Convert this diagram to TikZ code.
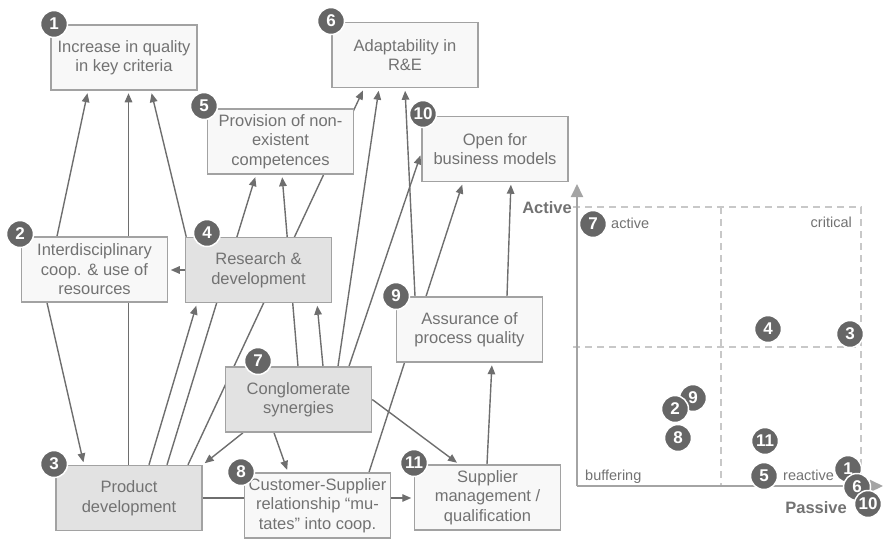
\documentclass[tikz,border=0pt]{standalone}
\usepackage{fontspec}
\setmainfont{Liberation Sans}
\usetikzlibrary{arrows.meta,calc}
\pgfdeclarelayer{background}
\pgfsetlayers{background,main}

\definecolor{boxline}{HTML}{A2A2A2}
\definecolor{boxfill}{HTML}{F8F8F8}
\definecolor{boxdark}{HTML}{E2E2E2}
\definecolor{txt}{HTML}{727272}
\definecolor{linkcol}{HTML}{6E6E6E}
\definecolor{badgecol}{HTML}{666666}
\definecolor{axiscol}{HTML}{A4A4A4}
\definecolor{gridcol}{HTML}{C8C8C8}

\tikzset{
  box/.style={draw=boxline, line width=1.5pt, fill=boxfill,
    minimum width=146pt, minimum height=65pt, inner sep=0pt,
    align=center, text=txt, font=\fontsize{16.5}{19.5}\selectfont},
  darkbox/.style={box, fill=boxdark},
  badge/.style={circle, fill=badgecol, draw=white, line width=1.5pt,
    minimum size=27pt, inner sep=0pt, text=white,
    font=\fontsize{17}{17}\bfseries\selectfont},
  link/.style={draw=linkcol, line width=1.4pt,
    -{Triangle[length=9pt,width=7.5pt]}, shorten >=2.5pt},
  axisline/.style={draw=axiscol, line width=2pt,
    -{Triangle[length=13pt,width=12pt]}},
  gridline/.style={draw=gridcol, line width=1.5pt, dash pattern=on 7pt off 5pt},
  quadlabel/.style={text=txt, inner sep=0pt, font=\fontsize{14.5}{17}\selectfont},
  axislabel/.style={text=txt, inner sep=0pt, font=\fontsize{16.5}{19}\bfseries\selectfont}
}

\begin{document}
\begin{tikzpicture}[x=1pt,y=-1pt]
\useasboundingbox (0,0) rectangle (884,539);

% ---- factor boxes ----
\node[box]     (b1)  at (124,57.5)   {Increase in quality\\in key criteria};
\node[box]     (b2)  at (94.5,269.5) {Interdisciplinary\\coop. \& use of\\resources};
\node[darkbox] (b3)  at (129,498)    {Product\\development};
\node[darkbox] (b4)  at (258.5,270)  {Research \&\\development};
\node[box]     (b5)  at (280.5,141.5){Provision of non-\\existent\\competences};
\node[box]     (b6)  at (405,55)     {Adaptability in\\R\&E};
\node[darkbox] (b7)  at (298.5,399.5){Conglomerate\\synergies};
\node[box]     (b8)  at (317.5,505.5){Customer-Supplier\\relationship “mu-\\tates” into coop.};
\node[box]     (b9)  at (469.5,329.5){Assurance of\\process quality};
\node[box]     (b10) at (495,149)    {Open for\\business models};
\node[box]     (b11) at (487.5,497.5){Supplier\\management /\\qualification};

% ---- numbered badges on the boxes ----
\node[badge] (n1)  at (54,24)   {1};
\node[badge] (n2)  at (20,234)  {2};
\node[badge] (n3)  at (54,464)  {3};
\node[badge] (n4)  at (207,233) {4};
\node[badge] (n5)  at (204,106) {5};
\node[badge] (n6)  at (331,21)  {6};
\node[badge] (n7)  at (258,361) {7};
\node[badge] (n8)  at (241,472) {8};
\node[badge] (n9)  at (396,296) {9};
\node[badge] (n10) at (423,114) {10};
\node[badge] (n11) at (414,463) {11};

% ---- influence arrows (behind the boxes) ----
\begin{pgfonlayer}{background}
\draw[link] ([xshift=-37.5pt]b2.north) -- ([xshift=-36pt]b1.south);
\draw[link] ([xshift=-0.5pt]b3.north) -- ([xshift=4.5pt]b1.south);
\draw[link] ([xshift=1.5pt]b4.north west) -- ([xshift=27pt]b1.south);
\draw[link] (b4.west) -- (b4.west -| b2.east);
\draw[link] ([xshift=-47.5pt]b2.south) -- ([xshift=-45pt]b3.north);
\draw[link] ([xshift=20pt]b3.north) -- ([xshift=-61.5pt]b4.south);
\draw[link] ([xshift=38pt]b3.north) -- ([xshift=-24.5pt]b5.south);
\draw[link] ([xshift=59pt]b3.north) -- ([xshift=-41pt]b6.south);
\draw[link] ([xshift=-0.5pt]b7.north) -- ([xshift=1.5pt]b5.south);
\draw[link] ([xshift=24.5pt]b7.north) -- ([xshift=58.5pt]b4.south);
\draw[link] ([xshift=39.5pt]b7.north) -- ([xshift=-26pt]b6.south);
\draw[link] ([xshift=50.5pt]b7.north) -- ([yshift=-4pt]b10.west);
\draw[link] ([xshift=-54.5pt]b9.north) -- (b6.south);
\draw[link] ([xshift=51.5pt]b8.north) -- ([xshift=-32pt]b10.south);
\draw[link] ([xshift=37.5pt]b9.north) -- ([xshift=16pt]b10.south);
\draw[link] ([xshift=-55.5pt]b7.south) -- (b3.north east);
\draw[link] ([xshift=-24.5pt]b7.south) -- ([xshift=-29.5pt]b8.north);
\draw[link] (b7.east) -- ([xshift=-28.5pt]b11.north);
\draw[link] (b3.east) -- (b3.east -| b11.west);
\draw[link] ([xshift=-0.5pt]b11.north) -- ([xshift=22.5pt]b9.south);

% ---- portfolio chart: grid and axes ----
\coordinate (org)  at (577,486);
\coordinate (ytip) at (577,184);
\coordinate (xtip) at (883,486);
\draw[gridline] (573,207) -- (861,207) -- (861,486);
\draw[gridline] (573,347) -- (861,347);
\draw[gridline] (721,207) -- (721,486);
\draw[axisline] (org) -- (ytip);
\draw[axisline] (org) -- (xtip);
\end{pgfonlayer}

% ---- chart labels ----
\node[axislabel, anchor=base east] (lact)  at (572,213) {Active};
\node[axislabel, anchor=base east] (lpas)  at (847,513) {Passive};
\node[quadlabel, anchor=base west] (qact)  at (611,228) {active};
\node[quadlabel, anchor=base east] (qcri)  at (852,227) {critical};
\node[quadlabel, anchor=base west] (qbuf)  at (585,480) {buffering};
\node[quadlabel, anchor=base west] (qrea)  at (783,480) {reactive};

% ---- factors placed in the chart ----
\node[badge] (c7)  at (593,224) {7};
\node[badge] (c4)  at (768,329) {4};
\node[badge] (c3)  at (850,334) {3};
\node[badge] (c9)  at (693,398) {9};
\node[badge] (c2)  at (675,409) {2};
\node[badge] (c8)  at (678,438) {8};
\node[badge] (c11) at (765,441) {11};
\node[badge] (c5)  at (764,476) {5};
\node[badge] (c1)  at (848,469) {1};
\node[badge] (c6)  at (857,487) {6};
\node[badge] (c10) at (868,504) {10};
\end{tikzpicture}
\end{document}
